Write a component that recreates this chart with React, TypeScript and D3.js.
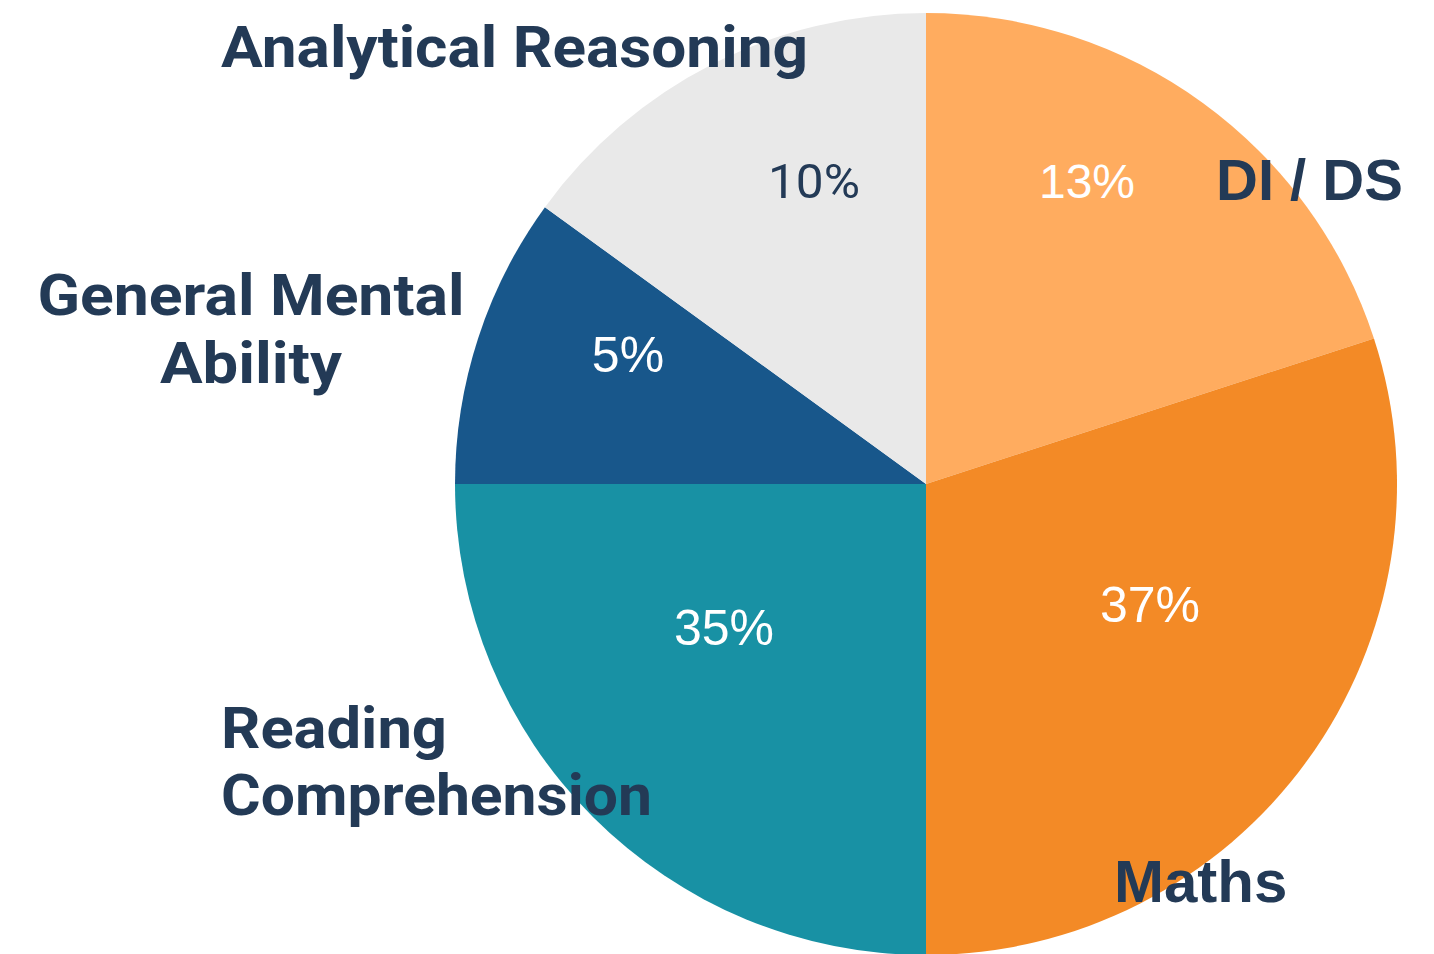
import React from 'react'
import * as d3 from 'd3'

// slice sizes as drawn, and the percentage text printed on each slice
const categories = ['DI / DS', 'Maths', 'Reading Comprehension', 'General Mental Ability', 'Analytical Reasoning']
const shares = [20, 30, 25, 10, 15]
const pctLabels = ['13%', '37%', '35%', '5%', '10%']
const colors = ['#FFAC5F', '#F38A26', '#1891A4', '#18578B', '#E9E9E9']
const pctColors = ['#FFFFFF', '#FFFFFF', '#FFFFFF', '#FFFFFF', '#233A56']

const W = 1434
const H = 954
const cx = 926
const cy = 484
const R = 471
const ink = '#233A56'

// where each percentage sits (centre x, baseline y), and its size
const pctPos = [[1087, 198], [1150, 622], [724, 645], [628, 372], [814, 198]]
const pctSize = [48, 50, 50, 50, 48]

const plex = "Roboto, 'Noto Sans', sans-serif"
const helv = "'Liberation Sans', Arial, sans-serif"

export default function App() {
  const pie = d3.pie<number>().sort(null).startAngle(0).endAngle(2 * Math.PI)
  const arcs = pie(shares)
  const arc = d3.arc<d3.PieArcDatum<number>>().innerRadius(0).outerRadius(R)

  return (
    <svg width={W} height={H} style={{ position: 'absolute', left: 0, top: 0, background: '#fff' }}>
      <g transform={`translate(${cx},${cy})`}>
        {arcs.map((a, i) => (
          <path key={categories[i]} d={arc(a) || ''} fill={colors[i]} />
        ))}
      </g>

      {pctLabels.map((t, i) => (
        i === 4 ? (
          <text key={t} x={pctPos[i][0]} y={pctPos[i][1]} textAnchor="middle" fill={pctColors[i]}
            fontFamily={plex} fontWeight={400} fontSize={pctSize[i]} textLength={92} lengthAdjust="spacingAndGlyphs">{t}</text>
        ) : (
          <text key={t} x={pctPos[i][0]} y={pctPos[i][1]} textAnchor="middle" fill={pctColors[i]}
            fontFamily={helv} fontWeight={400} fontSize={pctSize[i]}>{t}</text>
        )
      ))}

      <text x={221} y={67} fill={ink} fontFamily={plex} fontWeight={700} fontSize={58}
        textLength={587} lengthAdjust="spacingAndGlyphs">Analytical Reasoning</text>

      <text x={1216} y={200} fill={ink} fontFamily={helv} fontWeight={700} fontSize={58}>DI / DS</text>

      <text x={251} y={315} textAnchor="middle" fill={ink} fontFamily={plex} fontWeight={700} fontSize={58}
        textLength={427} lengthAdjust="spacingAndGlyphs">General Mental</text>
      <text x={251} y={383} textAnchor="middle" fill={ink} fontFamily={plex} fontWeight={700} fontSize={58}
        textLength={182} lengthAdjust="spacingAndGlyphs">Ability</text>

      <text x={221} y={748} fill={ink} fontFamily={plex} fontWeight={700} fontSize={58}
        textLength={226} lengthAdjust="spacingAndGlyphs">Reading</text>
      <text x={221} y={815} fill={ink} fontFamily={plex} fontWeight={700} fontSize={58}
        textLength={431} lengthAdjust="spacingAndGlyphs">Comprehension</text>

      <text x={1114} y={902} fill={ink} fontFamily={helv} fontWeight={700} fontSize={60}>Maths</text>
    </svg>
  )
}
